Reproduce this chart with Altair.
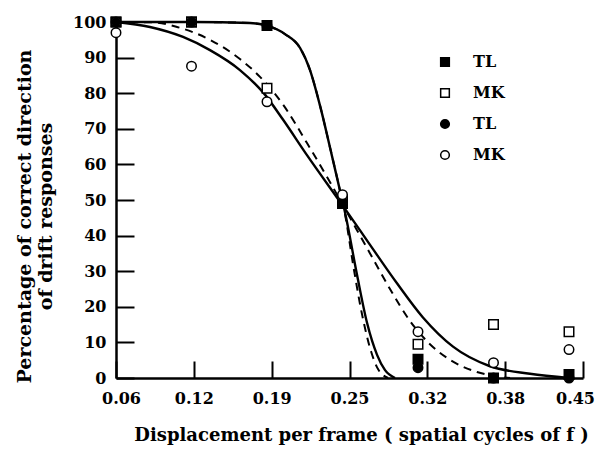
import altair as alt
import pandas as pd

# ---- axis ticks / labels ----
x_tick_values = [0.0625, 0.12693, 0.19136, 0.25579, 0.32022, 0.38465, 0.44908]
x_tick_labels = ['0.06', '0.12', '0.19', '0.25', '0.32', '0.38', '0.45']
y_tick_values = [0, 10, 20, 30, 40, 50, 60, 70, 80, 90, 100]

# ---- data points ----
pt_x = [0.0625, 0.125, 0.1875, 0.25, 0.3125, 0.375, 0.4375]
tl_square = [100, 100, 99, 49, 5.3, 0, 1.0]       # filled squares
mk_square = [100, 100, 81.4, 50, 9.5, 15.0, 13.0] # open squares
tl_circle = [100, 100, 99, 49.5, 2.9, 0, 0]       # filled circles
mk_circle = [97, 87.6, 77.6, 51.5, 13.0, 4.3, 8.0] # open circles

# ---- fitted curves ----
steep_solid_x = [0.0625, 0.1262, 0.1734, 0.1883, 0.2024, 0.2149, 0.2231, 0.2314, 0.2397, 0.2480,
                 0.2521, 0.2620, 0.2703, 0.2786, 0.2852, 0.2935]
steep_solid_y = [100, 100, 99.7, 98.9, 96.6, 92.7, 86.5, 76.5, 64.7, 52.5,
                 46.5, 29.0, 15.5, 6.5, 2.2, 0]
steep_dash_x = [0.0625, 0.1262, 0.1734, 0.1883, 0.2024, 0.2149, 0.2231, 0.2314, 0.2397, 0.2480,
                0.2521, 0.2587, 0.2661, 0.2736, 0.2794, 0.2877]
steep_dash_y = [100, 100, 99.7, 98.9, 96.6, 92.7, 86.5, 76.5, 64.7, 52.5,
                46.0, 32.0, 18.0, 7.5, 2.5, 0]
shallow_solid_x = [0.0625, 0.0906, 0.1180, 0.1403, 0.1651, 0.1858, 0.2007, 0.2206, 0.2454, 0.2521,
                   0.2728, 0.2951, 0.3166, 0.3415, 0.3721, 0.4052, 0.4375]
shallow_solid_y = [100, 98.6, 95.8, 92.1, 86.5, 79.6, 72.6, 62.6, 50.7, 47.5,
                   37.4, 26.6, 17.0, 8.8, 3.3, 1.2, 0]
shallow_dash_x = [0.0625, 0.0931, 0.1130, 0.1403, 0.1651, 0.1817, 0.2024, 0.2206, 0.2397, 0.2521,
                  0.2728, 0.2893, 0.3059, 0.3224, 0.3415, 0.3613, 0.3762, 0.3887]
shallow_dash_y = [100, 99.9, 98.6, 95.0, 89.6, 84.6, 76.0, 66.0, 55.0, 47.5,
                  35.0, 25.0, 16.0, 9.5, 4.6, 1.7, 0.5, 0]

series_names = ['TL1', 'MK1', 'TL2', 'MK2']

FONT = 'DejaVu Serif'

pts = []
for name, vals in zip(series_names, [tl_square, mk_square, tl_circle, mk_circle]):
    for xv, yv in zip(pt_x, vals):
        pts.append({'x': xv, 'y': yv, 'series': name})
pts_df = pd.DataFrame(pts)

def curve_df(cid, xs, ys):
    return pd.DataFrame({'x': xs, 'y': ys, 'curve': cid, 'order': range(len(xs))})

solid_df = pd.concat([curve_df('steep', steep_solid_x, steep_solid_y),
                      curve_df('shallow', shallow_solid_x, shallow_solid_y)])
dash_df = pd.concat([curve_df('steep', steep_dash_x, steep_dash_y),
                     curve_df('shallow', shallow_dash_x, shallow_dash_y)])

xscale = alt.Scale(domain=[x_tick_values[0], x_tick_values[-1]], zero=False, nice=False)
yscale = alt.Scale(domain=[0, 100], nice=False)

label_expr = "[" + ",".join("'%s'" % l for l in x_tick_labels) + "][round((datum.value-0.0625)/0.06443)]"

# inward ticks are drawn as short dashed grid segments next to each axis line
x_axis = alt.Axis(values=x_tick_values, labelExpr=label_expr, ticks=False, tickSize=0,
                  grid=True, gridColor='black', gridWidth=2, gridOpacity=1,
                  gridDash=[0, 339, 17, 2000],
                  domainColor='black', domainWidth=2.5, labelFont=FONT, labelFontSize=16,
                  labelFontWeight='bold', labelColor='black', labelPadding=12,
                  labelFlush=False, labelOverlap=False,
                  labelOffset={'condition': [{'test': 'datum.value < 0.07', 'value': 5},
                                             {'test': 'datum.value > 0.44', 'value': -8}],
                               'value': 0},
                  title='Displacement per frame ( spatial cycles of f )', titleFont=FONT,
                  titleFontSize=18, titleFontWeight='bold', titleColor='black', titlePadding=20,
                  titleX=245, titleAlign='center')
y_axis = alt.Axis(values=y_tick_values, tickCount=11, ticks=False, tickSize=0,
                  grid=True, gridColor='black', gridWidth=2, gridOpacity=1, gridDash=[18, 2000],
                  domainColor='black', domainWidth=2.5, labelFont=FONT, labelFontSize=16,
                  labelFontWeight='bold', labelColor='black', labelPadding=10, labelOverlap=False,
                  labelFlush=False,
                  title=['Percentage of correct direction', 'of drift responses'],
                  titleFont=FONT, titleFontSize=19, titleFontWeight='bold', titleColor='black',
                  titleLineHeight=21, titleX=-92, titleY=194, titleBaseline='middle', titleAngle=-90)

X = alt.X('x:Q', scale=xscale, axis=x_axis)
Y = alt.Y('y:Q', scale=yscale, axis=y_axis)

solid = alt.Chart(solid_df).mark_line(color='black', strokeWidth=2.4, interpolate='monotone').encode(
    x=X, y=Y, detail='curve:N', order='order:Q')
dashed = alt.Chart(dash_df).mark_line(color='black', strokeWidth=2.0, strokeDash=[8, 6],
                                      interpolate='monotone').encode(
    x=X, y=Y, detail='curve:N', order='order:Q')

legend = alt.Legend(title=None, orient='none', legendX=321, legendY=32, padding=0,
                    labelExpr='slice(datum.label, 0, 2)', labelFont=FONT, labelFontSize=16,
                    labelFontWeight='bold', labelColor='black', labelOffset=20, rowPadding=15,
                    symbolStrokeColor='black', symbolStrokeWidth=1.5, symbolSize=75)

points = alt.Chart(pts_df).mark_point(filled=True, strokeWidth=1.5, size=90, opacity=1).encode(
    x=X, y=Y,
    shape=alt.Shape('series:N', scale=alt.Scale(domain=series_names,
                                               range=['square', 'square', 'circle', 'circle']),
                    legend=legend),
    fill=alt.Fill('series:N', scale=alt.Scale(domain=series_names,
                                             range=['black', 'white', 'black', 'white']),
                  legend=legend),
    stroke=alt.Stroke('series:N', scale=alt.Scale(domain=series_names,
                                                 range=['black', 'black', 'black', 'black']),
                      legend=legend),
)

chart = alt.layer(solid, dashed, points).properties(
    width=467, height=356,
    padding={'left': 108, 'top': 14, 'right': 13, 'bottom': 71},
    autosize=alt.AutoSizeParams(type='none'),
    background='white',
).configure_view(stroke=None)

chart.save("out.html", embed_options={"renderer": "svg", "actions": False})
